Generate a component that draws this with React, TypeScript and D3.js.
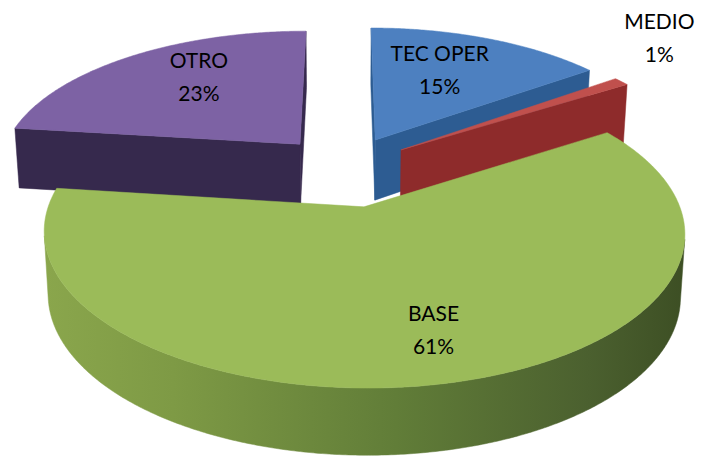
import React from 'react'
import * as d3 from 'd3'

// slice data, clockwise from 12 o'clock
const categories = ['TEC OPER', 'MEDIO', 'BASE', 'OTRO']
const values = [15, 1, 61, 23]

// styles
const topColors = ['#4d80c0', '#c0504d', '#9bbb59', '#7d62a4']
const faceColors = ['#2d5c92', '#8e2b2b', '#6f8a3e', '#36294d']
const wallColors = ['#33659f', '#a33232', 'url(#baseWall)', '#3b2d52']
const explode = [0.23, 0.23, 0.28, 0.23]
// label placement: shift from mid angle (deg) and radius (fraction of pie radius)
const labelShift = [-4, -9, -2, 6.7]
const labelRadius = [0.64, 1.42, 0.74, 0.68]

const width = 701,
  height = 457

// fake perspective camera
const cx = 344.7,
  cy = 167.4,
  sx = 302,
  sy = 138,
  persp = 0.16,
  depth = 61,
  depthPersp = 0.072

const project = (X: number, Z: number, down: number): [number, number] => {
  const d = 1 + persp * Z
  return [
    cx + ((sx * X) / d) * (1 - 0.013 * down),
    cy - (sy * Z) / d + (down * depth) / (1 + depthPersp * Z)
  ]
}

const area = (pts: [number, number][]) => {
  let s = 0
  for (let i = 0; i < pts.length; i++) {
    const a = pts[i],
      b = pts[(i + 1) % pts.length]
    s += a[0] * b[1] - b[0] * a[1]
  }
  return s
}

const closed = (pts: [number, number][]) => (d3.line()(pts) || '') + 'Z'

export default function App() {
  const total = d3.sum(values)
  const pie = d3
    .pie<number>()
    .sort(null)
    .startAngle(0)
    .endAngle(2 * Math.PI)
  const arcs = pie(values)

  const slices = arcs.map((a, i) => {
    const mid = (a.startAngle + a.endAngle) / 2
    const ex = explode[i] * Math.sin(mid),
      ez = explode[i] * Math.cos(mid)
    const pt = (r: number, ang: number, down: number) =>
      project(r * Math.sin(ang) + ex, r * Math.cos(ang) + ez, down)

    const step = Math.PI / 360
    const n = Math.max(2, Math.ceil((a.endAngle - a.startAngle) / step))
    const angs = d3.range(n + 1).map(k => a.startAngle + ((a.endAngle - a.startAngle) * k) / n)

    // top face
    const top = [pt(0, 0, 0), ...angs.map(t => pt(1, t, 0))]

    // radial faces
    const faces: string[] = []
    const startQuad = [pt(0, 0, 0), pt(1, a.startAngle, 0), pt(1, a.startAngle, 1), pt(0, 0, 1)]
    if (area(startQuad) < 0) faces.push(closed(startQuad))
    const endQuad = [pt(0, 0, 0), pt(1, a.endAngle, 0), pt(1, a.endAngle, 1), pt(0, 0, 1)]
    if (area(endQuad) > 0) faces.push(closed(endQuad))

    // outer wall, only the runs facing the viewer
    const walls: string[] = []
    let run: number[] = []
    const flush = () => {
      if (run.length > 1) {
        const upper = run.map(t => pt(1, t, 0))
        const lower = run.map(t => pt(1, t, 1)).reverse()
        walls.push(closed([...upper, ...lower]))
      }
      run = []
    }
    for (let k = 0; k < angs.length - 1; k++) {
      const q = [pt(1, angs[k], 0), pt(1, angs[k + 1], 0), pt(1, angs[k + 1], 1), pt(1, angs[k], 1)]
      if (area(q) < 0) {
        if (!run.length) run.push(angs[k])
        run.push(angs[k + 1])
      } else flush()
    }
    flush()

    // label
    const la = mid + (labelShift[i] * Math.PI) / 180
    const [lx, ly] = pt(labelRadius[i], la, 0)

    return { i, ez, top: closed(top), faces, walls, lx, ly }
  })

  const order = [...slices].sort((p, q) => q.ez - p.ez)

  return (
    <svg
      width={width}
      height={height}
      style={{ position: 'absolute', left: 0, top: 0, background: '#fff' }}
    >
      <defs>
        <linearGradient id="baseWall" gradientUnits="userSpaceOnUse" x1={45} x2={684} y1={0} y2={0}>
          <stop offset="0" stopColor="#8aa64c" />
          <stop offset="0.2" stopColor="#7e9a45" />
          <stop offset="0.55" stopColor="#617d38" />
          <stop offset="0.85" stopColor="#4b602f" />
          <stop offset="1" stopColor="#3d4f24" />
        </linearGradient>
      </defs>
      {order.map(s => (
        <g key={s.i}>
          {s.walls.map((d, k) => (
            <path key={'w' + k} d={d} fill={wallColors[s.i]} stroke={wallColors[s.i]} strokeWidth={0.5} />
          ))}
          {s.faces.map((d, k) => (
            <path key={'f' + k} d={d} fill={faceColors[s.i]} stroke={faceColors[s.i]} strokeWidth={0.5} />
          ))}
          <path d={s.top} fill={topColors[s.i]} stroke={topColors[s.i]} strokeWidth={0.5} />
        </g>
      ))}
      <g fontFamily="Lato, 'Open Sans', sans-serif" fontSize={21} fill="#000" textAnchor="middle">
        {slices.map(s => (
          <text key={s.i}>
            <tspan x={s.lx} y={s.ly - 9}>
              {categories[s.i]}
            </tspan>
            <tspan x={s.lx} y={s.ly + 24}>
              {Math.round((values[s.i] / total) * 100) + '%'}
            </tspan>
          </text>
        ))}
      </g>
    </svg>
  )
}
